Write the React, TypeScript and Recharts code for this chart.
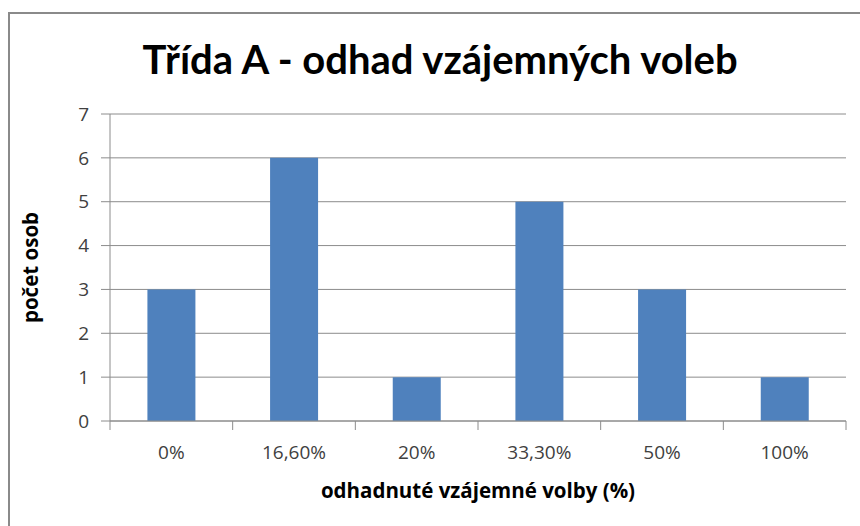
import React from "react";
import { BarChart, Bar, XAxis, YAxis, CartesianGrid, Label } from "recharts";

const categories = ["0%", "16,60%", "20%", "33,30%", "50%", "100%"];
const counts = [3, 6, 1, 5, 3, 1];
const yTicks = [0, 1, 2, 3, 4, 5, 6, 7];

const data = categories.map((c, i) => ({ cat: c, count: counts[i] }));

const TITLE_FONT = "Lato, 'Open Sans', sans-serif";
const FONT = "'Open Sans', 'DejaVu Sans', sans-serif";
const AXIS_COLOR = "#8c8c8c";
const TEXT_COLOR = "#404040";

const XTick = (props: any) => {
  const { x, y, payload, index, visibleTicksCount } = props;
  const half = payload.offset || 0;
  const last = index === visibleTicksCount - 1;
  return (
    <g>
      <line x1={x - half} x2={x - half} y1={y - 8} y2={y + 1} stroke={AXIS_COLOR} />
      {last && <line x1={x + half} x2={x + half} y1={y - 8} y2={y + 1} stroke={AXIS_COLOR} />}
      <text x={x} y={y + 30} textAnchor="middle" fontSize={19} fill={TEXT_COLOR} fontFamily={FONT}>
        {payload.value}
      </text>
    </g>
  );
};

export default function App() {
  return (
    <div style={{ position: "absolute", left: 0, top: 0, width: 860, height: 526, background: "#fff" }}>
      <div
        style={{
          position: "absolute",
          left: 8,
          top: 12,
          width: 852,
          height: 514,
          borderTop: "2px solid #8a8a8a",
          borderLeft: "2px solid #8a8a8a",
          boxSizing: "border-box",
        }}
      />
      <div
        style={{
          position: "absolute",
          left: 0,
          width: 880,
          top: 34,
          textAlign: "center",
          fontFamily: TITLE_FONT,
          fontWeight: 700,
          fontSize: 40,
          color: "#000",
          lineHeight: "50px",
          whiteSpace: "nowrap",
        }}
      >
        Třída A - odhad vzájemných voleb
      </div>
      <div style={{ position: "absolute", left: 0, top: 0 }}>
        <BarChart
          width={860}
          height={526}
          data={data}
          margin={{ top: 114, right: 14, left: 0, bottom: 0 }}
          barCategoryGap="30.5%"
        >
          <CartesianGrid vertical={false} stroke={AXIS_COLOR} />
          <XAxis
            dataKey="cat"
            height={105}
            stroke={AXIS_COLOR}
            tickLine={false}
            interval={0}
            tick={<XTick />}
          >
            <Label
              value="odhadnuté vzájemné volby (%)"
              position="insideBottom"
              offset={28}
              style={{ fontFamily: FONT, fontWeight: 700, fontSize: 20.5, fill: "#000" }}
            />
          </XAxis>
          <YAxis
            width={110}
            domain={[0, 7]}
            ticks={yTicks}
            interval={0}
            stroke={AXIS_COLOR}
            tickSize={9}
            tickMargin={12}
            tick={{ fontSize: 19, fill: TEXT_COLOR, fontFamily: FONT }}
          >
            <Label
              value="počet osob"
              angle={-90}
              position="insideLeft"
              offset={31}
              style={{ textAnchor: "middle", fontFamily: FONT, fontWeight: 700, fontSize: 20.5, fill: "#000" }}
            />
          </YAxis>
          <Bar dataKey="count" fill="#4F81BD" isAnimationActive={false} />
        </BarChart>
      </div>
    </div>
  );
}
